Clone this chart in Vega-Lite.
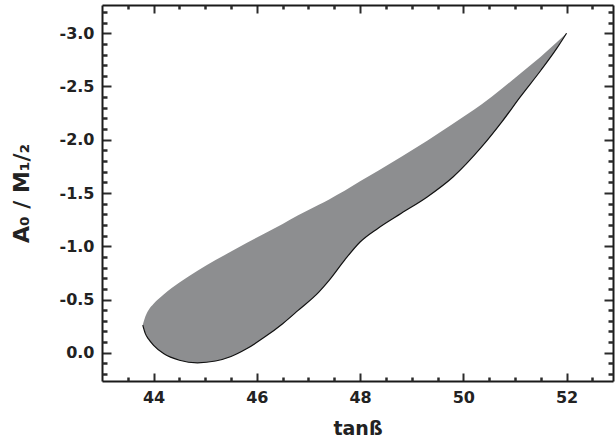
{
  "$schema": "https://vega.github.io/schema/vega-lite/v6.json",
  "width": 511,
  "height": 376,
  "autosize": "none",
  "padding": {"left": 102, "top": 5, "right": 3, "bottom": 62},
  "background": "white",
  "config": {
    "view": {"stroke": null},
    "axis": {"grid": false}
  },
  "data": {
    "values": [
      {"x": 43.79, "up": -0.26, "low": -0.26},
      {"x": 43.84, "up": -0.34, "low": -0.18},
      {"x": 43.9, "up": -0.4, "low": -0.13},
      {"x": 44.0, "up": -0.46, "low": -0.069},
      {"x": 44.2, "up": -0.55, "low": 0.01},
      {"x": 44.5, "up": -0.66, "low": 0.07},
      {"x": 44.85, "up": -0.77, "low": 0.094},
      {"x": 45.2, "up": -0.87, "low": 0.077},
      {"x": 45.5, "up": -0.95, "low": 0.035},
      {"x": 45.8, "up": -1.03, "low": -0.037},
      {"x": 46.15, "up": -1.12, "low": -0.147},
      {"x": 46.5, "up": -1.21, "low": -0.273},
      {"x": 46.8, "up": -1.29, "low": -0.398},
      {"x": 47.2, "up": -1.39, "low": -0.57},
      {"x": 47.4, "up": -1.44, "low": -0.68},
      {"x": 47.7, "up": -1.52, "low": -0.87},
      {"x": 48.0, "up": -1.61, "low": -1.04},
      {"x": 48.35, "up": -1.71, "low": -1.17},
      {"x": 48.8, "up": -1.84, "low": -1.31},
      {"x": 49.3, "up": -1.99, "low": -1.463},
      {"x": 49.8, "up": -2.15, "low": -1.65},
      {"x": 50.35, "up": -2.33, "low": -1.93},
      {"x": 50.75, "up": -2.48, "low": -2.17},
      {"x": 51.1, "up": -2.62, "low": -2.4},
      {"x": 51.5, "up": -2.78, "low": -2.65},
      {"x": 51.8, "up": -2.91, "low": -2.85},
      {"x": 52.0, "up": -3.0, "low": -3.0}
    ]
  },
  "resolve": {"axis": {"x": "independent", "y": "independent"}},
  "layer": [
    {
      "mark": {"type": "area", "color": "#8d8e90", "interpolate": "monotone", "opacity": 1},
      "encoding": {
        "x": {
          "field": "x", "type": "quantitative",
          "scale": {"domain": [43, 52.9], "nice": false, "zero": false},
          "axis": {
            "orient": "bottom",
            "values": [44, 46, 48, 50, 52],
            "format": "d",
            "labelOverlap": false,
            "tickSize": -8,
            "tickWidth": 2,
            "tickColor": "#2b2b2b",
            "labelPadding": 16, "domainColor": "#1a1a1a", "domainWidth": 2,
            "labelFont": "DejaVu Sans", "labelFontWeight": "bold", "labelFontSize": 16, "labelColor": "#222222",
            "title": "tanß", "titleFont": "DejaVu Sans", "titleFontWeight": "bold", "titleColor": "#222222",
            "titleFontSize": 19, "titlePadding": 14
          }
        },
        "y": {
          "field": "up", "type": "quantitative",
          "scale": {"domain": [0.265, -3.265], "nice": false, "zero": false},
          "axis": {
            "orient": "left",
            "values": [-3.0, -2.5, -2.0, -1.5, -1.0, -0.5, 0],
            "labelExpr": "(datum.value < -0.001 ? '-' : '') + format(abs(datum.value), '.1f')",
            "labelOverlap": false,
            "tickSize": -9,
            "tickWidth": 2,
            "tickColor": "#2b2b2b",
            "labelPadding": 17, "domainColor": "#1a1a1a", "domainWidth": 2,
            "labelFont": "DejaVu Sans", "labelFontWeight": "bold", "labelFontSize": 16, "labelColor": "#222222",
            "title": "A₀ / M₁/₂", "titleFont": "DejaVu Sans", "titleFontWeight": "bold", "titleColor": "#222222",
            "titleFontSize": 22, "titlePadding": 26
          }
        },
        "y2": {"field": "low"}
      }
    },
    {
      "mark": {"type": "line", "color": "#111111", "strokeWidth": 1.2, "interpolate": "monotone"},
      "encoding": {
        "x": {
          "field": "x", "type": "quantitative",
          "axis": {
            "orient": "top",
            "values": [44, 46, 48, 50, 52],
            "labels": false, "title": null,
            "tickSize": -8, "tickWidth": 2,
            "tickColor": "#2b2b2b", "domainColor": "#1a1a1a", "domainWidth": 2
          }
        },
        "y": {
          "field": "low", "type": "quantitative",
          "axis": {
            "orient": "right",
            "values": [-3.0, -2.5, -2.0, -1.5, -1.0, -0.5, 0],
            "labels": false, "title": null,
            "tickSize": -9, "tickWidth": 2,
            "tickColor": "#2b2b2b", "domainColor": "#1a1a1a", "domainWidth": 2
          }
        }
      }
    },
    {
      "mark": {"type": "point", "opacity": 0},
      "encoding": {
        "x": {
          "field": "x", "type": "quantitative",
          "axis": {
            "orient": "bottom",
            "values": [43.5, 44.5, 45, 45.5, 46.5, 47, 47.5, 48.5, 49, 49.5, 50.5, 51, 51.5, 52.5],
            "labels": false, "domain": false, "title": null,
            "tickSize": -4, "tickWidth": 2.5, "tickColor": "#2b2b2b"
          }
        },
        "y": {
          "field": "low", "type": "quantitative",
          "axis": {
            "orient": "left",
            "values": [-3.2, -3.1, -2.9, -2.8, -2.7, -2.6, -2.4, -2.3, -2.2, -2.1, -1.9, -1.8, -1.7, -1.6, -1.4, -1.3, -1.2, -1.1, -0.9, -0.8, -0.7, -0.6, -0.4, -0.3, -0.2, -0.1, 0.1, 0.2],
            "labels": false, "domain": false, "title": null,
            "tickSize": -5, "tickWidth": 2.5, "tickColor": "#2b2b2b"
          }
        }
      }
    },
    {
      "mark": {"type": "point", "opacity": 0},
      "encoding": {
        "x": {
          "field": "x", "type": "quantitative",
          "axis": {
            "orient": "top",
            "values": [43.5, 44.5, 45, 45.5, 46.5, 47, 47.5, 48.5, 49, 49.5, 50.5, 51, 51.5, 52.5],
            "labels": false, "domain": false, "title": null,
            "tickSize": -4, "tickWidth": 2.5, "tickColor": "#2b2b2b"
          }
        },
        "y": {
          "field": "low", "type": "quantitative",
          "axis": {
            "orient": "right",
            "values": [-3.2, -3.1, -2.9, -2.8, -2.7, -2.6, -2.4, -2.3, -2.2, -2.1, -1.9, -1.8, -1.7, -1.6, -1.4, -1.3, -1.2, -1.1, -0.9, -0.8, -0.7, -0.6, -0.4, -0.3, -0.2, -0.1, 0.1, 0.2],
            "labels": false, "domain": false, "title": null,
            "tickSize": -5, "tickWidth": 2.5, "tickColor": "#2b2b2b"
          }
        }
      }
    }
  ]
}
